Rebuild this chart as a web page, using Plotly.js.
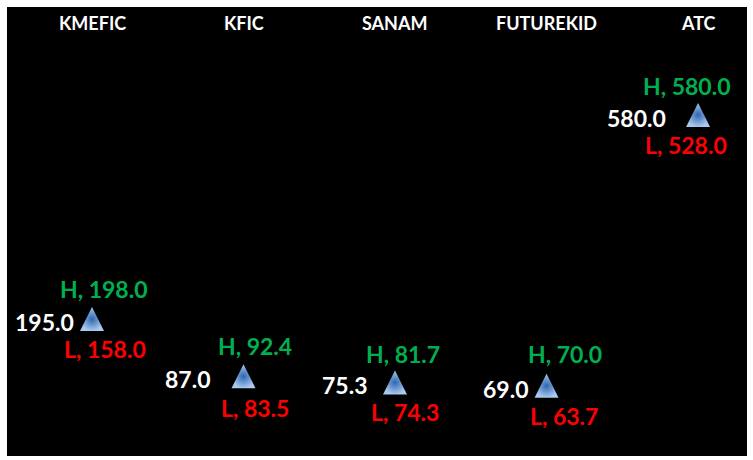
<!DOCTYPE html>
<html>
<head>
<meta charset="utf-8">
<script src="https://cdn.plot.ly/plotly-3.0.1.min.js"></script>
<style>html,body{margin:0;padding:0;background:#fff;}#chart{width:753px;height:460px;}</style>
</head>
<body>
<div id="chart"></div>
<script>
var categories = ["KMEFIC", "KFIC", "SANAM", "FUTUREKID", "ATC"];
var lastValues = [195.0, 87.0, 75.3, 69.0, 580.0];
var highValues = [198.0, 92.4, 81.7, 70.0, 580.0];
var lowValues = [158.0, 83.5, 74.3, 63.7, 528.0];

// label placement tweaks (pixels, relative to the marker tip), styling only
var valueDx = [-16, -32, -26, -17, -30];
var highDx = [12, 11, 8, 18, -11];
var highDy = [18, 18, 16, 20, 17];
var lowDx = [13, 11, 10, 17, -12];
var lowDy = [-42, -44, -42, -42, -42];

var FONT = "Lato, 'Open Sans', sans-serif";
var annotations = [];
categories.forEach(function (c, i) {
  annotations.push({
    x: c, y: 1, xref: "x", yref: "paper", yanchor: "middle", yshift: -16,
    text: "<b>" + c + "</b>", showarrow: false,
    font: {family: FONT, size: 18, color: "#ffffff"}
  });
  annotations.push({
    x: c, y: lastValues[i], xref: "x", yref: "y", xanchor: "right", yanchor: "middle",
    xshift: valueDx[i], yshift: -15,
    text: "<b>" + lastValues[i].toFixed(1) + "</b>", showarrow: false,
    font: {family: FONT, size: 23, color: "#ffffff"}
  });
  annotations.push({
    x: c, y: lastValues[i], xref: "x", yref: "y", xanchor: "center", yanchor: "middle",
    xshift: highDx[i], yshift: highDy[i],
    text: "<b>H, " + highValues[i].toFixed(1) + "</b>", showarrow: false,
    font: {family: FONT, size: 23, color: "#00b050"}
  });
  annotations.push({
    x: c, y: lastValues[i], xref: "x", yref: "y", xanchor: "center", yanchor: "middle",
    xshift: lowDx[i], yshift: lowDy[i],
    text: "<b>L, " + lowValues[i].toFixed(1) + "</b>", showarrow: false,
    font: {family: FONT, size: 23, color: "#ff0000"}
  });
});

var trace = {
  type: "scatter", mode: "markers",
  x: categories, y: lastValues,
  marker: {
    symbol: "arrow-up", size: 24,
    color: "#a9c9ef",
    gradient: {type: "radial", color: "#2f66b0"},
    line: {width: 0}
  },
  hoverinfo: "skip"
};

var layout = {
  width: 753, height: 460,
  margin: {l: 7, r: 6, t: 7, b: 4},
  paper_bgcolor: "#ffffff",
  plot_bgcolor: "#000000",
  showlegend: false,
  xaxis: {type: "category", range: [-0.561, 4.323], showticklabels: false, showgrid: false, zeroline: false, showline: false, ticks: ""},
  yaxis: {range: [-86, 761], showticklabels: false, showgrid: false, zeroline: false, showline: false, ticks: ""},
  annotations: annotations
};

Plotly.newPlot("chart", [trace], layout, {displayModeBar: false, staticPlot: true});
</script>
</body>
</html>
